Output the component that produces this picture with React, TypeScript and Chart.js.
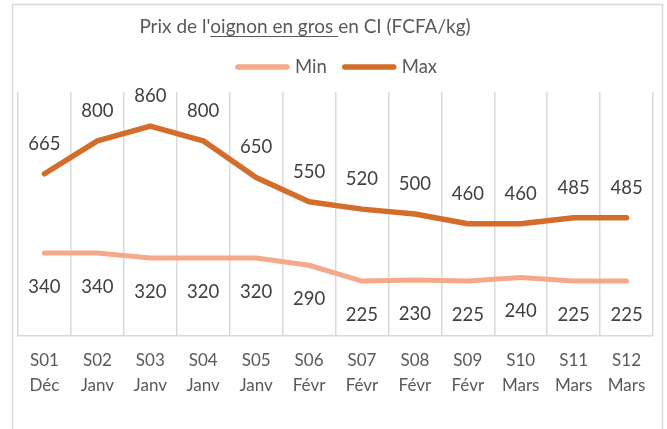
import React, { useEffect, useRef } from "react";
import { Chart, registerables } from "chart.js";

Chart.register(...registerables);

const weeks = ["S01", "S02", "S03", "S04", "S05", "S06", "S07", "S08", "S09", "S10", "S11", "S12"];
const months = ["Déc", "Janv", "Janv", "Janv", "Janv", "Févr", "Févr", "Févr", "Févr", "Mars", "Mars", "Mars"];
const minPrices = [340, 340, 320, 320, 320, 290, 225, 230, 225, 240, 225, 225];
const maxPrices = [665, 800, 860, 800, 650, 550, 520, 500, 460, 460, 485, 485];
const seriesNames = ["Min", "Max"];
const seriesColors = ["#F3A98A", "#D46D2A"];
const yRange = [0, 1000];
const titleParts = [
  { text: "Prix de l'", underline: false },
  { text: "oignon en gros ", underline: true },
  { text: "en CI (FCFA/kg)", underline: false },
];

const FONT = "Lato, 'Open Sans', sans-serif";

const overlay = {
  id: "overlay",
  beforeDraw(chart: any) {
    const ctx = chart.ctx;
    ctx.save();
    ctx.fillStyle = "#FFFFFF";
    ctx.fillRect(0, 0, chart.width, chart.height);
    ctx.strokeStyle = "#D9D9D9";
    ctx.lineWidth = 1.5;
    ctx.strokeRect(12.5, 4.5, 650, 460);
    ctx.restore();
  },
  afterDatasetsDraw(chart: any) {
    const ctx = chart.ctx;
    ctx.save();
    ctx.font = `18.5px ${FONT}`;
    ctx.fillStyle = "#404040";
    ctx.textAlign = "center";
    ctx.textBaseline = "middle";
    chart.data.datasets.forEach((ds: any, di: number) => {
      const meta = chart.getDatasetMeta(di);
      meta.data.forEach((pt: any, i: number) => {
        const off = di === 1 ? -30 : 34;
        ctx.fillText(String(ds.data[i]), pt.x, pt.y + off);
      });
    });
    ctx.restore();
  },
  afterDraw(chart: any) {
    const ctx = chart.ctx;
    ctx.save();
    // Title
    ctx.font = `19px ${FONT}`;
    ctx.fillStyle = "#595959";
    ctx.textBaseline = "middle";
    ctx.textAlign = "left";
    const widths = titleParts.map((p) => ctx.measureText(p.text).width);
    const total = widths.reduce((a, b) => a + b, 0);
    let x = 305 - total / 2;
    const ty = 27;
    titleParts.forEach((p, i) => {
      ctx.fillText(p.text, x, ty);
      if (p.underline) {
        ctx.strokeStyle = "#595959";
        ctx.lineWidth = 1;
        ctx.beginPath();
        ctx.moveTo(x, 36.5);
        ctx.lineTo(x + widths[i], 36.5);
        ctx.stroke();
      }
      x += widths[i];
    });
    // Legend
    ctx.font = `18.5px ${FONT}`;
    const lineLen = 55;
    const gapText = 5;
    const gapItem = 15;
    const items = seriesNames.map((n) => ctx.measureText(n).width);
    const legW = items.reduce((a, w) => a + lineLen + gapText + w, 0) + gapItem * (items.length - 1);
    let lx = 336 - legW / 2;
    const ly = 67;
    seriesNames.forEach((n, i) => {
      ctx.strokeStyle = seriesColors[i];
      ctx.lineWidth = 5.5;
      ctx.lineCap = "round";
      ctx.beginPath();
      ctx.moveTo(lx + 3, ly);
      ctx.lineTo(lx + lineLen - 3, ly);
      ctx.stroke();
      ctx.fillStyle = "#595959";
      ctx.fillText(n, lx + lineLen + gapText, ly);
      lx += lineLen + gapText + items[i] + gapItem;
    });
    ctx.restore();
  },
};

export default function App() {
  const ref = useRef<HTMLCanvasElement | null>(null);
  useEffect(() => {
    if (!ref.current) return;
    const chart = new Chart(ref.current, {
      type: "line",
      data: {
        labels: weeks.map((w, i) => [w, months[i]]),
        datasets: [
          {
            label: seriesNames[0],
            data: minPrices,
            borderColor: seriesColors[0],
            backgroundColor: seriesColors[0],
            borderWidth: 5,
            pointRadius: 0,
            tension: 0,
            borderCapStyle: "round",
            borderJoinStyle: "round",
          },
          {
            label: seriesNames[1],
            data: maxPrices,
            borderColor: seriesColors[1],
            backgroundColor: seriesColors[1],
            borderWidth: 5.5,
            pointRadius: 0,
            tension: 0,
            borderCapStyle: "round",
            borderJoinStyle: "round",
          },
        ],
      },
      options: {
        animation: false,
        responsive: false,
        layout: { padding: { left: 18, right: 14, top: 92, bottom: 0 } },
        plugins: {
          legend: { display: false },
          title: { display: false },
          tooltip: { enabled: false },
        },
        scales: {
          x: {
            offset: true,
            grid: { offset: true, color: "#D9D9D9", lineWidth: 1.5, drawTicks: false },
            border: { display: true, color: "#D9D9D9", width: 1.5 },
            ticks: {
              color: "#595959",
              font: { family: FONT, size: 17, lineHeight: 1.47 },
              padding: 12,
              maxRotation: 0,
              autoSkip: false,
            },
            afterFit: (scale: any) => {
              scale.height = 93;
            },
          },
          y: {
            display: false,
            min: yRange[0],
            max: yRange[1],
          },
        },
      },
      plugins: [overlay],
    });
    return () => chart.destroy();
  }, []);
  return (
    <canvas
      ref={ref}
      width={667}
      height={429}
      style={{ position: "fixed", left: 0, top: 0, display: "block" }}
    />
  );
}
